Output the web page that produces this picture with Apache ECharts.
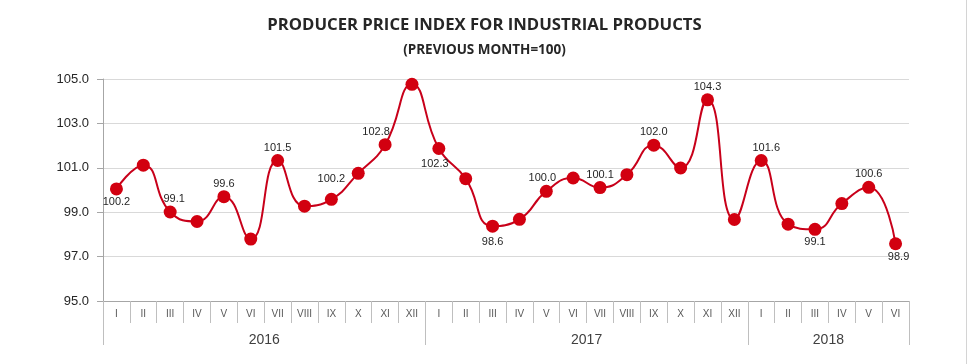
<!DOCTYPE html>
<html>
<head>
<meta charset="utf-8">
<script src="https://cdn.jsdelivr.net/npm/echarts@6/dist/echarts.min.js"></script>
<style>html,body{margin:0;padding:0;background:#fff;}#c{width:969px;height:364px;}</style>
</head>
<body>
<div id="c"></div>
<script>
// ---- data ----
const titleText = 'PRODUCER PRICE INDEX FOR INDUSTRIAL PRODUCTS';
const subtitleText = '(PREVIOUS MONTH=100)';
const monthNames = ['I','II','III','IV','V','VI','VII','VIII','IX','X','XI','XII'];
const years = ['2016','2017','2018'];
const monthsPerYear = [12, 12, 6];
const values = [100.05, 101.12, 99.01, 98.58, 99.70, 97.79, 101.33, 99.27, 99.58, 100.75, 102.04, 104.76,
                101.87, 100.51, 98.37, 98.68, 99.94, 100.54, 100.11, 100.69, 102.02, 100.99, 104.06, 98.67,
                101.33, 98.46, 98.23, 99.39, 100.12, 97.58];
const labelTexts = ['100.2', null, '99.1', null, '99.6', null, '101.5', null, '100.2', null, '102.8', null,
                    '102.3', null, '98.6', null, '100.0', null, '100.1', null, '102.0', null, '104.3', null,
                    '101.6', null, '99.1', null, '100.6', '98.9'];
const labelBelow = [0, 12, 14, 26, 29];
const yMin = 95.0, yMax = 105.0, yStep = 2.0;

// ---- build ----
const BASE = yMin;
const categories = [];
monthsPerYear.forEach(n => { for (let i = 0; i < n; i++) categories.push(monthNames[i]); });
const total = categories.length;
// half-month slots for the year axis
const yearSlots = [];
const yearTickIdx = [0];
const yearLabelIdx = [];
let acc = 0;
monthsPerYear.forEach((n) => { yearLabelIdx.push((acc * 2) + n); acc += n; yearTickIdx.push(acc * 2); });
for (let k = 0; k <= total * 2; k++) {
  const yi = yearLabelIdx.indexOf(k);
  yearSlots.push(yi >= 0 ? years[yi] : '');
}
const labelOffsets = {8: [0, -7], 10: [-9, 0], 12: [-4, 2], 14: [0, 3], 16: [-4, 0], 24: [5, 0], 29: [3, 0], 2: [4, 0]};

const seriesData = values.map((v, i) => {
  const item = { value: v - BASE };
  if (labelTexts[i]) {
    const below = labelBelow.indexOf(i) >= 0;
    item.label = {
      show: true,
      position: below ? 'bottom' : 'top',
      distance: 1,
      offset: labelOffsets[i] || [0, 0],
      formatter: labelTexts[i]
    };
  }
  return item;
});

const chart = echarts.init(document.getElementById('c'));
chart.setOption({
  animation: false,
  backgroundColor: '#fff',
  title: {
    text: titleText,
    subtext: subtitleText,
    left: 'center',
    top: 12,
    itemGap: 9,
    textStyle: { fontFamily: 'Open Sans', fontWeight: 'bold', fontSize: 16.7, color: '#262626' },
    subtextStyle: { fontFamily: 'Open Sans', fontWeight: 'bold', fontSize: 13.5, color: '#262626' }
  },
  graphic: [{
    type: 'rect',
    right: 2, top: 0,
    shape: { width: 1, height: 364 },
    style: { fill: '#d4d4d4' },
    silent: true
  }],
  grid: { left: 103, right: 60, top: 79, bottom: 63, containLabel: false },
  xAxis: [{
    type: 'category',
    data: categories,
    boundaryGap: true,
    axisLine: { show: true, lineStyle: { color: '#a6a6a6', width: 1 } },
    axisTick: { show: true, interval: 0, length: 22, lineStyle: { color: '#bfbfbf' } },
    axisLabel: { interval: 0, margin: 8, fontFamily: 'Arial, Liberation Sans', fontSize: 10, color: '#595959' },
    splitLine: { show: false }
  }, {
    type: 'category',
    data: yearSlots,
    position: 'bottom',
    boundaryGap: false,
    axisLine: { show: false },
    axisTick: { show: true, length: 44, interval: (i) => yearTickIdx.indexOf(i) >= 0, lineStyle: { color: '#bfbfbf' } },
    axisLabel: { interval: 0, margin: 32, fontFamily: 'Arial, Liberation Sans', fontSize: 14, color: '#404040' },
    splitLine: { show: false }
  }],
  yAxis: {
    type: 'value',
    min: 0,
    max: yMax - BASE,
    interval: yStep,
    axisLine: { show: true, lineStyle: { color: '#a6a6a6' } },
    axisTick: { show: true, length: 6, lineStyle: { color: '#a6a6a6' } },
    axisLabel: { margin: 14, fontFamily: 'Arial, Liberation Sans', fontSize: 13, color: '#262626',
                 formatter: (v) => (v + BASE).toFixed(1) },
    splitLine: { show: true, lineStyle: { color: '#d9d9d9', width: 1 } }
  },
  series: [{
    type: 'line',
    xAxisIndex: 0,
    data: seriesData,
    smooth: 0.5,
    symbol: 'circle',
    symbolSize: 13,
    lineStyle: { color: '#c8001a', width: 2 },
    itemStyle: { color: '#d20010' },
    label: { fontFamily: 'Arial, Liberation Sans', fontSize: 11, color: '#262626' },
    emphasis: { disabled: true }
  }]
});
</script>
</body>
</html>
